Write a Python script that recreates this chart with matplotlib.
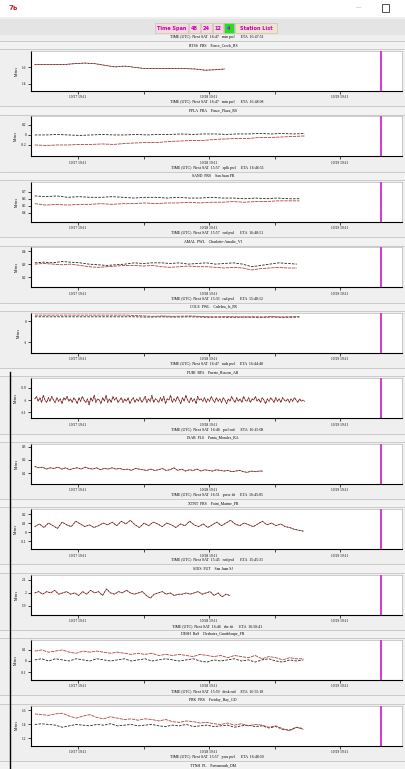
import matplotlib
matplotlib.use('Agg')
import matplotlib.pyplot as plt
import numpy as np
from matplotlib.patches import Rectangle
from matplotlib.lines import Line2D

# ---------------- data ----------------
stations = ["RTSS  PRS    Ponce_Creek_RS", "PPLA  PRA    Ponce_Plaza_RS", "SAND  PRS    San Juan PR",
            "AMAL  PWL    Charlotte-Amalie_VI", "COLE  PWL    Culebra_Is_PR", "PURI  RPA    Puerto_Rincon_AR",
            "ISAB  PLS    Punta_Morales_RA", "XTNT  PRS    Point_Marine_PR", "SJUS  PUT    San Juan SJ",
            "DESH  RaS    Deshaies_Guadeloupe_FR", "PBK  PRS    Freiday_Bay_GD", "TTNH  PL    Portsmouth_DM"]
time_lines = ["TIME (UTC)  Next SAT  16:47   min pwl      ETA  16:47:51",
              "TIME (UTC)  Next SAT  16:47   min pwl      ETA  16:48:08",
              "TIME (UTC)  Next SAT  15:57   splk pwl     ETA  16:46:51",
              "TIME (UTC)  Next SAT  15:57   rad pwl      ETA  16:48:51",
              "TIME (UTC)  Next SAT  15:33   rad pwl      ETA  15:48:12",
              "TIME (UTC)  Next SAT  16:47   rads pwl     ETA  16:44:48",
              "TIME (UTC)  Next SAT  16:46   pwl rad      ETA  16:45:08",
              "TIME (UTC)  Next SAT  16:51   pwse fit     ETA  16:45:05",
              "TIME (UTC)  Next SAT  15:45   rad pwl      ETA  15:45:31",
              "TIME (UTC)  Next SAT  16:46   rhe fit      ETA  16:50:41",
              "TIME (UTC)  Next SAT  15:59   desk rad     ETA  16:55:18",
              "TIME (UTC)  Next SAT  15:57   pwu pwl      ETA  16:48:50"]
xtick_labels = ["10/27 19:11", "10/28 19:11", "10/29 19:11"]
x_start = -0.33
x_ends = [1.12, 1.73, 1.69, 1.67, 1.69, 1.73, 1.41, 1.72, 1.16, 1.72, 1.72]
now_mark = 2.313
ylims = [(1.31, 1.80), (-0.43, 0.37), (0.27, 0.84), (0.12, 0.43), (-1.5, 0.4), (-1.15, -0.82),
         (0.018, 0.325), (-0.19, 0.254), (1.834, 2.14), (-0.173, 0.19), (1.1, 1.67)]
yticks = [[1.4, 1.6], [-0.2, 0, 0.2], [0.4, 0.5, 0.6, 0.7], [0.2, 0.3, 0.4], [-1, 0], [-1.1, -1.0, -0.9],
          [0.1, 0.2, 0.3], [-0.1, 0, 0.1, 0.2], [1.9, 2.0, 2.1], [-0.1, 0, 0.1], [1.2, 1.4, 1.6]]

p1_red = [1.633, 1.633, 1.633, 1.635, 1.645, 1.652, 1.645, 1.625, 1.605, 1.615, 1.600, 1.585, 1.585,
          1.585, 1.585, 1.585, 1.580, 1.565, 1.570, 1.580]
p1_black = p1_red
p2_black = [0.00, 0.00, 0.01, 0.00, -0.01, 0.00, 0.01, 0.00, 0.00, 0.01, 0.00, 0.01, 0.01, 0.02, 0.01,
            0.02, 0.02, 0.01, 0.02, 0.02, 0.03, 0.02, 0.03, 0.02, 0.03]
p2_red = [-0.20, -0.21, -0.20, -0.20, -0.19, -0.19, -0.18, -0.19, -0.17, -0.16, -0.15, -0.15, -0.13, -0.12,
          -0.11, -0.11, -0.09, -0.08, -0.07, -0.07, -0.05, -0.05, -0.04, -0.03, -0.02]
p3_black = [0.64, 0.63, 0.64, 0.62, 0.63, 0.62, 0.62, 0.63, 0.62, 0.61, 0.62, 0.62, 0.61, 0.62, 0.61, 0.61,
            0.62, 0.61, 0.61, 0.60, 0.61, 0.60, 0.61, 0.60, 0.60]
p3_red = [0.53, 0.51, 0.52, 0.51, 0.52, 0.52, 0.53, 0.52, 0.53, 0.53, 0.54, 0.53, 0.54, 0.54, 0.55, 0.54,
          0.55, 0.55, 0.56, 0.55, 0.56, 0.56, 0.57, 0.57, 0.57]
p4_black = [0.31, 0.315, 0.31, 0.32, 0.315, 0.31, 0.30, 0.295, 0.29, 0.295, 0.30, 0.31, 0.305, 0.31, 0.31,
            0.305, 0.31, 0.30, 0.305, 0.31, 0.30, 0.305, 0.31, 0.30, 0.28, 0.29, 0.30, 0.31, 0.305, 0.30]
p4_red = [0.30, 0.305, 0.30, 0.295, 0.30, 0.29, 0.28, 0.275, 0.28, 0.285, 0.29, 0.29, 0.285, 0.29, 0.28,
          0.275, 0.28, 0.285, 0.28, 0.28, 0.275, 0.27, 0.275, 0.27, 0.255, 0.265, 0.27, 0.275, 0.27, 0.27]
p5_red = [0.29, 0.29, 0.29, 0.29, 0.29, 0.29, 0.29, 0.29, 0.29, 0.29, 0.29, 0.27, 0.25, 0.23, 0.25, 0.23,
          0.24, 0.25, 0.23, 0.21, 0.20, 0.22, 0.21, 0.20, 0.21, 0.20, 0.22, 0.20, 0.21, 0.22]
p5_black = [0.21, 0.21, 0.21, 0.21, 0.21, 0.21, 0.21, 0.21, 0.21, 0.21, 0.21, 0.21, 0.20, 0.20, 0.21, 0.20,
            0.20, 0.21, 0.20, 0.19, 0.20, 0.19, 0.19, 0.20, 0.19, 0.19, 0.20, 0.19, 0.19, 0.20]
p6_red = [-0.99, -0.97, -1.01, -0.98, -1.02, -0.96, -1.00, -1.02, -0.98, -1.01,
          -0.97, -1.00, -1.02, -0.98, -1.01, -0.99, -1.03, -0.98, -1.00, -0.97,
          -1.01, -0.99, -1.02, -0.98, -1.00, -1.03, -0.98, -1.01, -0.97, -1.00,
          -1.02, -0.99, -1.04, -0.98, -1.01, -0.96, -1.02, -0.99, -1.00, -1.03,
          -0.98, -1.01, -0.96, -1.02, -0.99, -1.02, -0.97, -1.00, -0.98, -1.02,
          -1.00, -0.98, -1.02, -0.99, -1.01, -0.98, -1.03, -1.00, -0.98, -1.02,
          -0.99, -1.01, -0.98, -1.02, -1.00, -0.97, -1.02, -0.99, -1.01, -0.96,
          -1.02, -0.99, -1.00, -1.02, -0.98, -1.01, -0.97, -1.03, -0.99, -1.00,
          -0.96, -1.02, -0.99, -1.01, -0.97, -1.00, -1.03, -0.98, -1.01, -0.96,
          -1.00, -1.02, -0.98, -1.01, -0.99, -1.03, -0.97, -1.00, -0.99, -1.01,
          -0.98, -1.02, -0.99, -1.01, -0.97, -1.00, -1.02, -0.98, -1.01, -0.99,
          -1.02, -0.98, -1.00, -1.03, -0.99, -1.01, -0.97, -1.00, -1.02, -0.98,
          -1.01, -0.99, -1.02, -0.97, -1.00, -1.01, -0.98, -1.02, -0.99, -1.00,
          -0.97, -1.01, -0.99, -1.02, -0.98, -1.00, -1.03, -0.99, -1.01, -0.98,
          -1.00, -1.02, -0.98, -1.01, -0.99, -1.02, -0.98, -1.00, -1.01, -0.99,
          -1.02, -0.99, -1.01, -0.98, -1.00, -1.02, -0.99, -1.01, -1.00, -1.01]
p6_black = p6_red
p7_red = [0.15, 0.14, 0.145, 0.13, 0.14, 0.135, 0.145, 0.13, 0.14, 0.125,
          0.135, 0.14, 0.13, 0.145, 0.135, 0.13, 0.14, 0.125, 0.135, 0.13,
          0.14, 0.13, 0.135, 0.125, 0.13, 0.12, 0.135, 0.13, 0.125, 0.12,
          0.13, 0.12, 0.125, 0.135, 0.12, 0.125, 0.14, 0.12, 0.13, 0.115,
          0.125, 0.12, 0.13, 0.115, 0.125, 0.12, 0.115, 0.125, 0.12, 0.115,
          0.12, 0.11, 0.115, 0.12, 0.11, 0.105, 0.115, 0.11, 0.115, 0.115]
p7_black = p7_red
p8_red = [0.06, 0.09, 0.05, 0.10, 0.07, 0.04, 0.11, 0.08, 0.06, 0.12,
          0.09, 0.06, 0.08, 0.05, 0.07, 0.10, 0.08, 0.11, 0.07, 0.12,
          0.09, 0.13, 0.08, 0.05, 0.10, 0.07, 0.11, 0.09, 0.06, 0.10,
          0.08, 0.05, 0.09, 0.07, 0.12, 0.08, 0.06, 0.09, 0.05, 0.08,
          0.11, 0.07, 0.10, 0.13, 0.09, 0.07, 0.10, 0.08, 0.06, 0.09,
          0.12, 0.08, 0.10, 0.07, 0.09, 0.06, 0.05, 0.03, 0.02, 0.01]
p8_black = p8_red
p9_red = [2.00, 2.01, 1.99, 2.01, 2.00, 2.02, 1.99, 2.00, 2.01, 1.99,
          2.00, 1.98, 2.01, 1.99, 2.02, 2.00, 2.01, 1.98, 2.03, 2.00,
          1.99, 2.01, 2.00, 2.02, 2.00, 1.99, 2.00, 2.01, 1.98, 1.96,
          1.99, 2.00, 2.01, 1.99, 2.00, 1.98, 1.99, 1.99, 2.00, 1.99,
          2.00, 2.01, 1.99, 2.00, 2.01, 1.98, 2.00, 1.97, 1.99, 1.98]
p9_black = p9_red
p10_red = [0.09, 0.10, 0.08, 0.09, 0.10, 0.08, 0.07, 0.09, 0.08, 0.09,
           0.08, 0.07, 0.08, 0.07, 0.06, 0.07, 0.06, 0.07, 0.05, 0.06,
           0.05, 0.06, 0.05, 0.04, 0.06, 0.05, 0.04, 0.05, 0.03, 0.05,
           0.04, 0.03, 0.05, 0.02, 0.04, 0.03, 0.01, 0.03, 0.02, 0.02]
p10_black = [0.01, 0.02, 0.00, 0.02, 0.01, 0.00, 0.02, 0.01, 0.00, 0.02,
             0.01, 0.00, 0.01, 0.02, 0.00, 0.01, 0.02, 0.00, 0.01, 0.02,
             0.01, 0.00, 0.01, 0.02, 0.00, -0.01, 0.01, 0.00, 0.01, 0.02,
             0.00, 0.01, -0.01, 0.01, 0.02, 0.00, -0.01, 0.01, 0.00, 0.01]
p11_red = [1.55, 1.54, 1.53, 1.55, 1.56, 1.52, 1.49, 1.52, 1.54, 1.50,
           1.48, 1.51, 1.49, 1.47, 1.48, 1.46, 1.48, 1.47, 1.45, 1.47,
           1.44, 1.43, 1.45, 1.44, 1.42, 1.43, 1.41, 1.40, 1.42, 1.39,
           1.41, 1.38, 1.40, 1.39, 1.36, 1.38, 1.34, 1.31, 1.36, 1.33]
p11_black = [1.40, 1.41, 1.40, 1.39, 1.36, 1.38, 1.40, 1.39, 1.38, 1.40,
             1.39, 1.41, 1.38, 1.39, 1.40, 1.38, 1.39, 1.40, 1.38, 1.37,
             1.39, 1.38, 1.40, 1.37, 1.38, 1.39, 1.37, 1.38, 1.39, 1.36,
             1.38, 1.39, 1.37, 1.38, 1.35, 1.37, 1.33, 1.32, 1.36, 1.34]

red_series = [p1_red, p2_red, p3_red, p4_red, p5_red, p6_red, p7_red, p8_red, p9_red, p10_red, p11_red]
black_series = [p1_black, p2_black, p3_black, p4_black, p5_black, p6_black, p7_black, p8_black,
                p9_black, p10_black, p11_black]

# ---------------- figure ----------------
W, H = 406, 769
fig = plt.figure(figsize=(W / 100, H / 100), dpi=100)
fig.patch.set_facecolor('#efefef')
SERIF = 'Liberation Serif'


def fx(x):
    return x / W


def fy(y):
    return 1 - y / H


def frect(x0, y0, x1, y1, fc, ec='none', lw=0.5, z=0):
    fig.add_artist(Rectangle((fx(x0), fy(y1)), (x1 - x0) / W, (y1 - y0) / H, transform=fig.transFigure,
                             facecolor=fc, edgecolor=ec, lw=lw, zorder=z))


def fline(x0, y0, x1, y1, color, lw=0.5):
    fig.add_artist(Line2D([fx(x0), fx(x1)], [fy(y0), fy(y1)], transform=fig.transFigure, color=color, lw=lw))


# title bar
frect(0, 0, 406, 17, 'white')
fig.text(fx(8), fy(8), '7ь', color='#cc2222', fontsize=5, fontweight='bold', va='center', family='DejaVu Sans')
fig.text(fx(358), fy(8), '—', color='#999999', fontsize=4, va='center', ha='center')
frect(382, 4, 389, 12, 'none', ec='#333333', lw=0.6)

# button bar
frect(0, 19, 406, 35, '#e4e4e4')
buttons = [("Time Span", 155, 188, '#f4dcd8'), ("48", 189, 200, '#f4dcd8'), ("24", 201, 212, '#f4dcd8'),
           ("12", 213, 223, '#f4dcd8'), ("4", 224, 234, '#22e022'), ("Station List", 235, 277, '#f3e2cc')]
for lab, x0, x1, c in buttons:
    frect(x0, 23, x1, 33, c, ec='#c8b8b0', lw=0.4, z=1)
    fig.text(fx((x0 + x1) / 2), fy(28.3), lab, color='#c000c0', fontsize=3.6, fontweight='bold',
             ha='center', va='center', family='DejaVu Sans', zorder=2)

period = 65.45
for i in range(12):
    s = 45 + i * period
    fline(0, s - 4.2, 406, s - 4.2, '#c4c4c4', 0.6)
    frect(0, s - 4, 406, s + 4, '#f2f2f2')
    fline(0, s + 4.2, 406, s + 4.2, '#c4c4c4', 0.6)
    fig.text(fx(217), fy(s - 8.2), time_lines[i], fontsize=2.8, ha='center', va='center', family=SERIF)
    fig.text(fx(213), fy(s), stations[i], fontsize=2.8, ha='center', va='center', family=SERIF)

# left window border
fline(10.5, 372, 10.5, 769, 'black', 1.0)

for i in range(11):
    s = 45 + i * period
    ax = fig.add_axes([fx(31), fy(s + 46), (402 - 31) / W, 40 / H])
    ax.set_facecolor('white')
    ax.set_xlim(-0.359, 2.473)
    ax.set_ylim(*ylims[i])
    for side in ['top', 'right']:
        ax.spines[side].set_color('#b8b8b8')
        ax.spines[side].set_linewidth(0.5)
    for side in ['left', 'bottom']:
        ax.spines[side].set_color('black')
        ax.spines[side].set_linewidth(0.8)
    ax.set_xticks([0, 1, 2])
    ax.set_xticks([0.5, 1.5], minor=True)
    ax.set_xticklabels(xtick_labels)
    ax.set_yticks(yticks[i])
    ax.set_yticklabels([f"{v:g}" for v in yticks[i]])
    ax.tick_params(axis='both', which='both', labelsize=2.6, length=2, width=0.5, pad=1.2)
    for lab in ax.get_xticklabels() + ax.get_yticklabels():
        lab.set_family(SERIF)
    ax.set_ylabel('Meters', fontsize=2.6, family=SERIF, labelpad=2)

    r = red_series[i]
    b = black_series[i]
    xr = np.linspace(x_start, x_ends[i], len(r))
    xb = np.linspace(x_start, x_ends[i], len(b))
    if b is r:
        ax.plot(xr, r, color='#b04040', lw=0.55, zorder=2)
        ax.plot(xb, b, color='#222222', lw=0.45, ls=(0, (2, 3)), zorder=3)
    else:
        ax.plot(xb, b, color='#222222', lw=0.6, ls=(0, (3, 1.5)), zorder=2)
        ax.plot(xr, r, color='#b04040', lw=0.6, ls=(0, (4, 1)), zorder=3)
    ax.axvline(now_mark, color='#cc44cc', lw=1.5, zorder=4)

fig.savefig('out.png', dpi=100, facecolor=fig.get_facecolor())
